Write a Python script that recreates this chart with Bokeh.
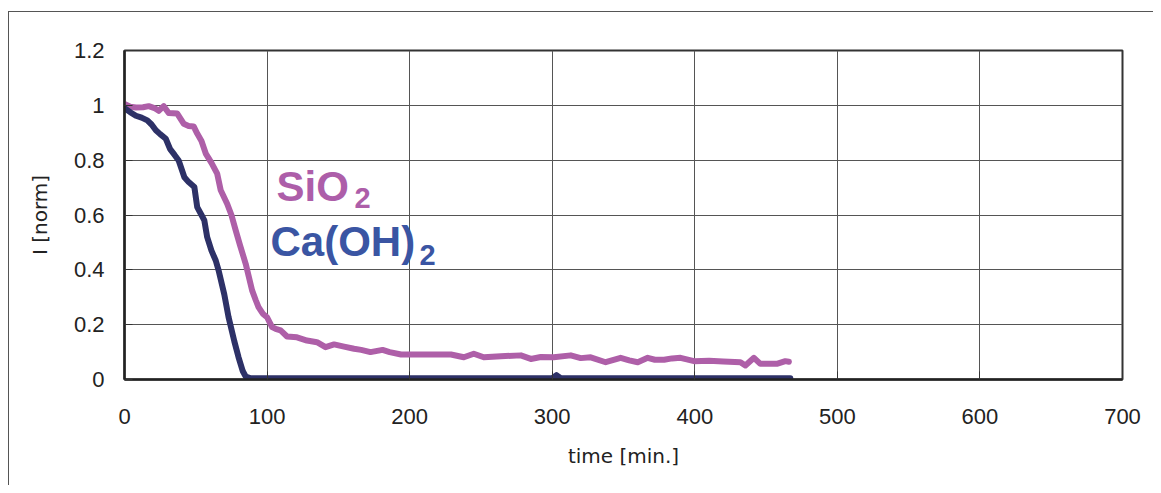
from bokeh.plotting import figure
from bokeh.models import Range1d, FixedTicker, CustomJSTickFormatter, Label
from bokeh.embed import file_html
from bokeh.resources import INLINE

# ---- data ----
t_sio2 = [0, 4, 8, 13, 17, 21, 24, 27.5, 31, 37, 41.5, 45, 48.5, 51, 54, 57, 61, 65, 67.5, 72,
          75, 78, 81, 85, 89.5, 92, 94, 97, 100, 103.5, 106, 109.5, 114, 121, 128, 135, 141, 147,
          154, 161, 166, 172.5, 181, 186, 194, 210, 229, 238, 245, 252, 264, 278, 285, 292, 301,
          313, 320, 327, 337.5, 348, 354, 360, 367, 372, 378.5, 384, 390, 399.5, 410, 420, 432,
          435.5, 441.5, 446, 452, 457.5, 463.5, 466]
i_sio2 = [1.005, 0.995, 0.992, 0.993, 0.997, 0.99, 0.98, 0.997, 0.972, 0.97, 0.933, 0.925, 0.923,
          0.897, 0.87, 0.824, 0.79, 0.751, 0.69, 0.641, 0.6, 0.544, 0.49, 0.422, 0.325, 0.29, 0.264,
          0.24, 0.227, 0.191, 0.185, 0.179, 0.157, 0.154, 0.142, 0.136, 0.118, 0.128, 0.12, 0.112,
          0.108, 0.1, 0.108, 0.1, 0.091, 0.091, 0.091, 0.081, 0.094, 0.081, 0.085, 0.088, 0.075,
          0.082, 0.081, 0.088, 0.078, 0.081, 0.063, 0.079, 0.07, 0.063, 0.079, 0.072, 0.072, 0.077,
          0.079, 0.067, 0.068, 0.066, 0.063, 0.051, 0.079, 0.057, 0.057, 0.057, 0.067, 0.065]

t_caoh = [0, 4, 8, 12, 16, 19, 22, 25, 29, 32, 35, 38, 42, 45, 49, 51, 54, 56, 58, 61, 64, 66, 70,
          73, 77, 80, 83, 85, 88, 150, 250, 300, 303, 306, 400, 467]
i_caoh = [0.99, 0.975, 0.962, 0.955, 0.945, 0.93, 0.909, 0.895, 0.878, 0.84, 0.82, 0.799, 0.738,
          0.72, 0.702, 0.629, 0.6, 0.58, 0.519, 0.47, 0.434, 0.398, 0.31, 0.227, 0.14, 0.081, 0.03,
          0.011, 0.005, 0.005, 0.005, 0.005, 0.016, 0.005, 0.005, 0.005]

x_ticks = [0, 100, 200, 300, 400, 500, 600, 700]
y_ticks = [0, 0.2, 0.4, 0.6, 0.8, 1, 1.2]

PINK = "#ae5fa8"
NAVY = "#2d3167"
LABEL_PINK = "#ad5ea9"
LABEL_BLUE = "#3a55a3"
FONT = "Liberation Sans"
AXFONT = "DejaVu Sans"

p = figure(width=1153, height=485, output_backend="svg", toolbar_location=None,
           x_range=Range1d(0, 700), y_range=Range1d(0, 1.2),
           min_border_left=124, min_border_right=31, min_border_top=50, min_border_bottom=106)
p.border_fill_color = None
p.background_fill_color = "white"
p.outline_line_color = "#333333"
p.outline_line_width = 2
p.styles = {"box-shadow": ("inset 0 11px 0 0 #ffffff, inset 8px 0 0 0 #ffffff, "
                           "inset 9px 0 0 0 #555555, inset 0 12px 0 0 #555555")}

for ax, ticks in ((p.xaxis[0], x_ticks), (p.yaxis[0], y_ticks)):
    ax.ticker = FixedTicker(ticks=ticks)
    ax.formatter = CustomJSTickFormatter(code="return String(Math.round(tick*10)/10);")
    ax.axis_line_color = "#222222"
    ax.axis_line_width = 2.5
    ax.major_tick_in = 8
    ax.major_tick_out = 0
    ax.major_tick_line_color = "#333333"
    ax.minor_tick_line_color = None
    ax.major_label_text_font = FONT
    ax.major_label_text_font_size = "22px"
    ax.major_label_text_color = "#222222"
    ax.axis_label_text_font = AXFONT
    ax.axis_label_text_font_size = "20px"
    ax.axis_label_text_font_style = "normal"
    ax.axis_label_text_color = "#222222"

p.xaxis.major_label_standoff = 29
p.yaxis.major_label_standoff = 20
p.xaxis.axis_label = "time [min.]"
p.yaxis.axis_label = "I [norm]"
p.xaxis.axis_label_standoff = 17
p.yaxis.axis_label_standoff = 19

p.grid.grid_line_color = "#555555"
p.grid.grid_line_width = 1
p.xgrid.ticker = FixedTicker(ticks=x_ticks)
p.ygrid.ticker = FixedTicker(ticks=y_ticks)

p.line(t_sio2, i_sio2, line_color=PINK, line_width=6, line_join="round", line_cap="round")
p.line(t_caoh, i_caoh, line_color=NAVY, line_width=6, line_join="round", line_cap="round")

def lab(text, sx, sy, size, color):
    p.add_layout(Label(x=sx, y=sy, x_units="screen", y_units="screen", text=text,
                       text_font=FONT, text_font_style="bold", text_font_size=size,
                       text_color=color, text_baseline="alphabetic", text_align="left"))

lab("SiO", 152, 193, "42px", LABEL_PINK)
lab("2", 230, 182, "29px", LABEL_PINK)
lab("Ca(OH)", 146, 138, "42px", LABEL_BLUE)
lab("2", 295, 125, "29px", LABEL_BLUE)

open("out.html", "w").write(file_html(p, INLINE))
